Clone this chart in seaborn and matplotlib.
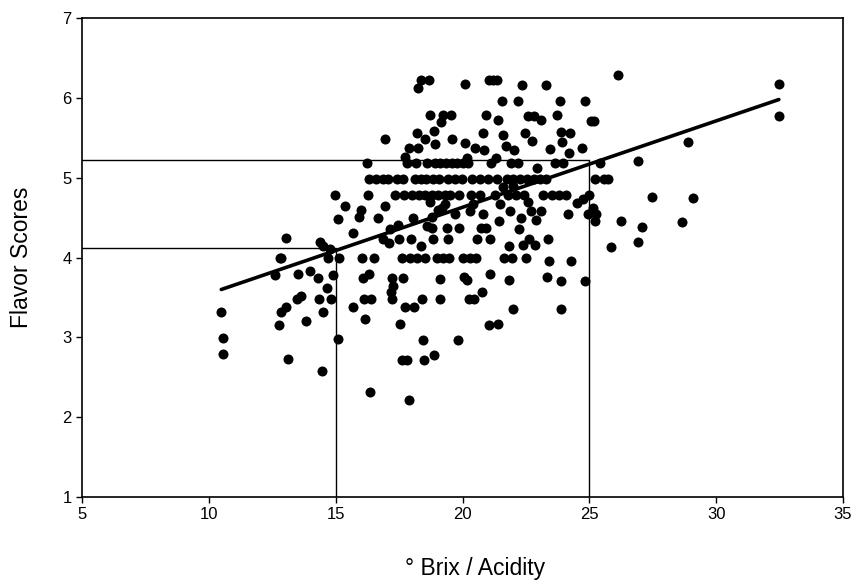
import matplotlib
matplotlib.use('Agg')
import matplotlib.pyplot as plt
import seaborn as sns
import pandas as pd

# Scattered points (Brix/Acidity ratio, flavor score)
brix = [10.49, 10.54, 10.54, 12.62, 12.85, 13.05, 12.77, 12.85, 13.03, 13.13,
        13.47, 13.65, 13.52, 13.97, 13.84, 14.29, 14.38, 14.49, 14.33, 14.49,
        14.46, 14.66, 14.77, 14.81, 14.89, 14.96, 15.09, 15.09, 15.37, 15.69,
        15.67, 15.90, 15.99, 16.08, 16.16, 16.12, 16.24, 16.37, 16.41, 16.33,
        16.67, 16.85, 16.93, 16.93, 17.15, 17.11, 17.19, 17.23, 17.23, 17.27,
        17.45, 17.49, 17.53, 17.60, 17.66, 17.75, 17.81, 17.75, 17.88, 17.88,
        17.96, 18.05, 18.09, 18.22, 18.26, 18.26, 18.35, 18.35, 18.39, 18.43,
        18.48, 18.52, 18.69, 18.73, 18.73, 18.78, 18.78, 18.82, 18.88, 18.88,
        18.91, 19.12, 19.12, 19.16, 19.25, 19.31, 19.38, 19.42, 19.55, 19.59,
        19.81, 19.85, 20.06, 20.11, 20.11, 20.17, 20.19, 20.24, 20.41, 20.45,
        20.49, 20.58, 20.71, 20.75, 20.79, 20.84, 20.92, 20.92, 21.03, 21.05,
        21.09, 21.09, 21.22, 21.31, 21.35, 21.39, 21.39, 21.44, 21.48, 21.57,
        21.61, 21.70, 21.82, 21.82, 21.87, 22.00, 22.04, 22.17, 22.21, 22.30,
        22.34, 22.38, 22.47, 22.60, 22.64, 22.69, 22.75, 22.81, 22.86, 22.90,
        22.94, 23.11, 23.28, 23.33, 23.37, 23.41, 23.46, 23.71, 23.84, 23.88,
        23.88, 23.88, 23.93, 24.15, 24.19, 24.24, 24.28, 24.53, 24.71, 24.75,
        24.84, 24.84, 24.93, 25.06, 25.14, 25.18, 25.23, 25.27, 25.86, 26.12,
        26.24, 26.93, 26.93, 27.06, 27.45, 28.65, 28.87, 29.08, 32.47, 32.47,
        19.05, 19.70, 20.30, 21.60, 22.00, 22.60, 23.10, 18.60, 19.20, 20.80]
flavor = [3.32, 2.99, 2.79, 3.78, 4.00, 4.24, 3.15, 3.32, 3.38, 2.73,
          3.48, 3.52, 3.79, 3.83, 3.20, 3.75, 4.19, 4.14, 3.48, 3.32,
          2.58, 3.62, 4.11, 3.48, 3.78, 4.79, 4.48, 2.98, 4.65, 4.31,
          3.38, 4.51, 4.60, 3.74, 3.23, 3.48, 5.19, 2.31, 3.48, 3.79,
          4.49, 4.23, 5.48, 4.65, 4.36, 4.18, 3.57, 3.48, 3.74, 3.65,
          4.41, 4.23, 3.17, 2.72, 3.74, 5.26, 2.72, 3.38, 2.22, 5.37,
          4.23, 4.50, 3.38, 5.56, 5.37, 6.12, 6.23, 4.14, 3.48, 2.97,
          2.72, 5.49, 6.23, 5.79, 4.70, 4.51, 4.37, 4.23, 2.78, 5.58,
          5.42, 3.73, 3.48, 5.70, 5.79, 4.67, 4.37, 4.23, 5.79, 5.48,
          2.97, 4.37, 3.76, 6.18, 5.44, 5.25, 3.72, 3.48, 4.67, 3.48,
          5.37, 4.23, 4.37, 3.57, 5.56, 5.35, 4.37, 5.79, 3.15, 6.23,
          4.23, 3.80, 6.23, 5.25, 6.23, 5.72, 3.17, 4.46, 4.67, 5.96,
          5.53, 5.40, 4.14, 3.72, 4.58, 3.36, 5.35, 5.96, 4.36, 4.49,
          6.16, 4.16, 5.56, 5.78, 4.23, 4.58, 5.46, 5.77, 4.16, 4.47,
          5.12, 5.72, 6.16, 3.76, 4.23, 3.96, 5.36, 5.79, 5.96, 5.57,
          3.71, 3.35, 5.45, 4.55, 5.31, 5.56, 3.96, 4.69, 5.37, 4.74,
          5.96, 3.71, 4.55, 5.71, 4.62, 5.71, 4.46, 4.55, 4.13, 6.29,
          4.46, 4.19, 5.21, 4.38, 4.76, 4.45, 5.45, 4.75, 6.18, 5.78,
          4.60, 4.55, 4.58, 4.88, 4.90, 4.70, 4.58, 4.40, 4.62, 4.55]

# Points sitting on the repeated score levels
row_519_x = [17.81, 18.18, 18.61, 18.90, 19.12, 19.35, 19.59, 19.80, 20.00, 20.20,
             21.14, 21.91, 22.20, 23.63, 23.97, 25.43]
row_498_x = [16.33, 16.59, 16.85, 17.06, 17.40, 17.65, 18.13, 18.35, 18.56, 18.84,
             19.08, 19.43, 19.70, 19.96, 20.37, 20.69, 21.00, 21.36, 21.74, 22.00,
             22.25, 22.55, 22.80, 23.07, 23.30, 25.23, 25.56, 25.73]
row_479_x = [16.26, 17.32, 17.70, 18.00, 18.30, 18.52, 18.80, 19.03, 19.30, 19.51,
             19.85, 20.32, 20.67, 21.27, 21.78, 22.12, 22.43, 23.18, 23.54, 23.80,
             24.06, 24.97]
row_400_x = [12.79, 14.70, 15.13, 16.04, 16.50, 17.60, 17.92, 18.20, 18.52, 18.99,
             19.25, 19.46, 20.02, 20.30, 20.54, 21.65, 21.95, 22.51]
row_levels = [5.19, 4.98, 4.79, 4.00]

# Fitted line end points and the two cut-off levels
fit_x = [10.49, 32.47]
fit_y = [3.60, 5.98]
cut_x = [15, 25]
cut_y = [4.12, 5.22]

xs = list(brix)
ys = list(flavor)
for level, row in zip(row_levels, [row_519_x, row_498_x, row_479_x, row_400_x]):
    xs.extend(row)
    ys.extend([level] * len(row))
df = pd.DataFrame({'brix': xs, 'flavor': ys})

sns.set_style('ticks')
plt.rcParams['font.family'] = ['Liberation Sans', 'DejaVu Sans']

fig = plt.figure(figsize=(8.57, 5.85), dpi=100)
ax = fig.add_axes([0.0957, 0.1504, 0.888, 0.8186])

# cut-off guide lines
for cx, cy in zip(cut_x, cut_y):
    ax.plot([5, cx], [cy, cy], color='black', lw=1.0, zorder=1)
    ax.plot([cx, cx], [1, cy], color='black', lw=1.0, zorder=1)

sns.scatterplot(data=df, x='brix', y='flavor', ax=ax, color='black',
                s=52, edgecolor='black', linewidth=0, zorder=3)
sns.lineplot(x=fit_x, y=fit_y, ax=ax, color='black', lw=2.6, zorder=4)

ax.set_xlim(5, 35)
ax.set_ylim(1, 7)
ax.set_xticks(range(5, 36, 5))
ax.set_yticks(range(1, 8))
ax.tick_params(axis='both', labelsize=12, length=4, width=1, direction='out',
               color='black', labelcolor='black')
for sp in ax.spines.values():
    sp.set_visible(True)
    sp.set_color('black')
    sp.set_linewidth(1.2)

ax.set_xlabel('\u00b0 Brix / Acidity', fontsize=16.5, color='black')
ax.xaxis.set_label_coords(0.517, -0.125)
ax.set_ylabel('Flavor Scores', fontsize=16.5, labelpad=21, color='black')

fig.savefig('out.png', dpi=100)
